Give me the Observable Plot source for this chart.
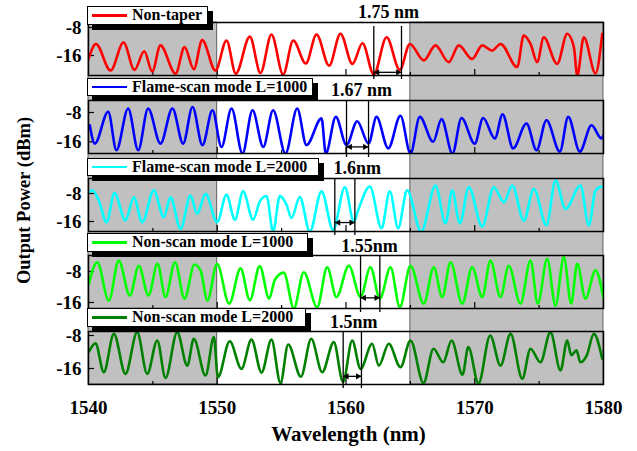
<!DOCTYPE html>
<html><head><meta charset="utf-8">
<script src="https://cdn.jsdelivr.net/npm/d3@7"></script>
<script src="https://cdn.jsdelivr.net/npm/@observablehq/plot@0.6"></script>
<style>
body{margin:0;background:#fff;}
#chart{position:relative;width:637px;height:451px;overflow:hidden;font-family:'Liberation Serif','Times New Roman',serif;font-weight:bold;background:#fff;}
#chart svg{position:absolute;left:0;}
.leg{position:absolute;left:87px;height:18.5px;background:#fff;border:1px solid #000;box-shadow:5px 5px 0 #000;box-sizing:border-box;font-size:16px;line-height:16.5px;white-space:nowrap;color:#000;}
.leg .sw{position:absolute;left:4px;top:7px;width:35px;height:2.6px;}
.leg .tx{position:absolute;left:44px;top:0;}
</style></head>
<body><div id="chart"></div>
<script>
// ---------- data ----------
const xTicks = [1540, 1550, 1560, 1570, 1580];
const majorTicks = [1550, 1560, 1570];
const minorTicks = [1545, 1555, 1565, 1575];
const yTicks = [-8, -16];
const shaded = [[1540, 1550], [1565, 1580]];

const seriesNames = ["Non-taper", "Flame-scan mode L=1000", "Flame-scan mode L=2000", "Non-scan mode L=1000", "Non-scan mode L=2000"];
const seriesColors = ["#ff0000", "#0000ff", "#00ffff", "#00ff00", "#008000"];

const nonTaper = [[1540.0,-17.0],[1540.58,-12.7],[1541.71,-20.3],[1542.72,-12.3],[1543.57,-20.1],[1544.33,-14.8],[1544.95,-20.6],[1545.59,-13.1],[1546.76,-21.2],[1547.46,-13.6],[1548.18,-19.9],[1548.83,-11.6],[1549.86,-20.3],
[1550.72,-11.7],[1551.44,-21.2],[1552.53,-10.6],[1553.36,-21.0],[1554.21,-10.0],[1555.12,-21.4],[1555.9,-11.7],[1556.88,-18.3],[1557.71,-10.0],[1558.69,-18.9],[1559.57,-9.8],[1560.5,-18.4],[1561.28,-12.5],[1562.16,-21.4],[1563.15,-10.8],[1564.18,-20.1],[1564.96,-12.7],
[1566.04,-17.4],[1566.95,-13.1],[1567.98,-17.9],[1568.76,-13.1],[1569.8,-17.0],[1570.58,-13.1],[1571.35,-14.6],[1572.0,-12.7],[1573.3,-19.3],[1573.8,-10.3],[1574.33,-12.7],[1574.85,-17.9],[1575.36,-10.8],[1576.4,-18.4],[1577.18,-9.8],[1577.7,-13.6],[1577.96,-21.7],[1578.47,-10.8],[1579.38,-21.1],[1579.9,-9.8]];

const flameL1000 = [[1540.1,-11.5],[1540.49,-16.5],[1541.53,-7.8],[1542.17,-18.3],[1543.08,-6.9],[1543.86,-18.3],[1544.63,-6.9],[1545.59,-16.5],[1546.52,-6.9],[1547.35,-16.5],[1548.08,-6.5],[1548.85,-16.9],[1549.63,-7.4],
[1550.33,-17.4],[1551.11,-6.9],[1551.96,-19.2],[1552.74,-7.4],[1553.57,-17.4],[1554.34,-7.4],[1555.3,-19.2],[1556.21,-6.9],[1556.93,-16.9],[1558.1,-9.6],[1558.43,-19.2],[1559.21,-9.2],[1560.04,-16.9],[1560.87,-10.4],[1561.75,-16.5],[1562.37,-9.2],[1563.28,-17.8],[1564.23,-8.9],[1565.01,-19.2],
[1565.73,-9.2],[1566.77,-16.0],[1567.42,-9.8],[1568.27,-19.2],[1568.97,-9.5],[1570.0,-16.5],[1570.65,-9.5],[1571.56,-15.1],[1572.16,-8.5],[1572.98,-17.8],[1574.02,-11.0],[1574.8,-18.3],[1575.57,-10.1],[1576.61,-18.7],[1577.26,-9.2],[1578.16,-18.7],[1579.07,-11.5],[1579.84,-15.1],[1580.0,-14.2]];

const flameL2000 = [[1540.02,-7.6],[1540.3,-7.1],[1540.8,-10.0],[1541.4,-16.2],[1542.02,-7.9],[1542.87,-15.7],[1543.52,-9.1],[1544.17,-16.2],[1545.07,-7.1],[1545.85,-14.8],[1546.37,-9.1],[1547.15,-18.1],[1547.92,-8.6],[1548.44,-13.8],[1549.09,-8.1],[1549.99,-16.2],
[1550.72,-8.4],[1551.37,-15.5],[1552.01,-7.4],[1552.79,-15.5],[1553.3,-10.3],[1553.83,-8.7],[1554.34,-18.9],[1554.86,-8.7],[1555.38,-11.2],[1555.77,-15.0],[1556.41,-9.0],[1557.19,-18.9],[1558.1,-7.4],[1559.0,-18.4],[1559.91,-6.2],[1560.61,-16.0],[1560.95,-12.7],[1561.85,-6.0],[1562.76,-17.9],[1563.4,-7.4],[1564.05,-17.9],[1564.75,-7.1],
[1565.84,-18.9],[1566.95,-5.7],[1567.73,-16.5],[1568.25,-7.1],[1568.84,-16.5],[1569.54,-6.2],[1570.58,-17.4],[1571.48,-6.2],[1572.26,-10.5],[1572.91,-5.7],[1573.81,-15.7],[1574.59,-6.7],[1575.57,-17.1],[1576.27,-4.3],[1577.05,-12.4],[1578.21,-5.7],[1578.86,-17.1],[1579.38,-7.1],[1579.84,-6.0]];

const nonScanL1000 = [[1540.02,-11.2],[1540.68,-5.6],[1541.58,-15.5],[1542.35,-5.2],[1543.21,-14.2],[1543.91,-6.5],[1544.66,-14.2],[1545.36,-6.0],[1545.98,-14.6],[1546.72,-5.6],[1547.46,-15.0],[1548.23,-6.2],[1548.7,-7.7],[1549.24,-15.5],[1549.98,-6.0],
[1550.93,-16.3],[1551.81,-7.2],[1552.53,-15.4],[1553.3,-6.6],[1554.03,-15.0],[1554.47,-10.2],[1555.17,-8.3],[1555.95,-17.5],[1556.72,-8.2],[1557.76,-17.2],[1558.54,-6.9],[1559.26,-14.6],[1560.22,-6.5],[1561.13,-14.6],[1561.9,-6.9],[1562.63,-15.0],[1563.46,-6.9],[1564.18,-17.2],[1565.01,-6.5],
[1566.04,-16.3],[1566.82,-6.9],[1567.47,-14.6],[1568.12,-5.6],[1569.03,-16.3],[1569.8,-6.9],[1570.58,-14.6],[1571.22,-5.2],[1572.0,-14.6],[1572.64,-6.5],[1573.55,-16.3],[1574.33,-5.2],[1574.9,-16.3],[1575.63,-4.7],[1576.27,-16.8],[1576.92,-4.3],[1577.49,-16.3],[1577.96,-6.0],[1578.6,-15.0],[1579.38,-7.7],[1580.0,-15.0]];

const nonScanL2000 = [[1540.02,-12.0],[1540.54,-9.9],[1541.19,-16.9],[1541.97,-7.6],[1542.87,-17.3],[1543.78,-7.2],[1544.56,-17.3],[1545.34,-9.2],[1545.98,-18.3],[1546.89,-7.2],[1547.67,-15.3],[1548.18,-8.8],[1549.09,-17.7],[1549.74,-8.4],[1550.05,-18.1],
[1550.97,-9.4],[1551.88,-16.1],[1552.66,-9.0],[1553.44,-17.0],[1554.21,-9.0],[1554.91,-19.5],[1555.51,-10.2],[1556.5,-18.0],[1557.3,-8.8],[1558.15,-16.9],[1559.05,-9.6],[1559.77,-19.3],[1560.48,-9.2],[1561.13,-16.1],[1562.03,-10.0],[1562.55,-15.3],[1563.32,-10.0],[1564.23,-15.7],[1565.01,-9.2],
[1566.02,-19.5],[1566.8,-11.2],[1567.55,-14.5],[1568.2,-9.2],[1569.05,-17.5],[1569.5,-10.8],[1570.29,-19.6],[1571.2,-8.0],[1572.0,-15.3],[1572.78,-7.6],[1573.69,-18.5],[1574.33,-11.2],[1575.1,-14.5],[1575.88,-7.2],[1576.66,-16.5],[1577.18,-9.2],[1577.5,-12.8],[1577.9,-11.6],[1578.2,-14.5],[1578.7,-12.8],[1579.25,-7.6],[1579.9,-13.6]];

const seriesData = [nonTaper, flameL1000, flameL2000, nonScanL1000, nonScanL2000];

const spacingLabels = ["1.75 nm", "1.67 nm", "1.6nm", "1.55nm", "1.5nm"];
const spacingMarks = [[1562.16, 1564.31], [1560.04, 1561.75], [1559.13, 1560.69], [1561.13, 1562.63], [1559.78, 1561.2]];
const arrowLevel = [-20.8, -17.4, -16.3, -14.8, -17.9];
const labelX = [1563.3, 1561.2, 1560.87, 1561.83, 1560.6];

// ---------- layout ----------
const W = 637, ML = 88, MR = 34;
const panelTop = [22, 100, 178, 255, 331];
const panelH = 53;
const yDomains = [[-21.71, -6.57], [-19.2, -4.72], [-18.86, -3.71], [-17.55, -3.87], [-19.88, -7.03]];
const labelDy = [-10, -10, -10, -9, -9.5];
const legTop = [6, 77.5, 157.5, 233.3, 308.3];
const legWidth = [120.5, 225.5, 232, 220.5, 219];
const MT = 22, MB = 8;
const font = {fontFamily: "'Liberation Serif','Times New Roman',serif", fontWeight: "bold", fontSize: "19px", background: "transparent", overflow: "visible"};

const chart = document.getElementById("chart");

// background: shaded bands, x axis, titles
const bg = Plot.plot({
  width: W, height: 451, marginTop: panelTop[0], marginBottom: 451 - (panelTop[4] + panelH),
  marginLeft: ML, marginRight: MR,
  style: font,
  x: {domain: [1540, 1580]},
  marks: [
    Plot.rect(shaded, {x1: d => d[0], x2: d => d[1], fill: "#c0c0c0", stroke: "#444", strokeWidth: 0.8}),
    Plot.axisX(xTicks, {tickSize: 0, tickPadding: 16, tickFormat: d => String(d), label: null}),
    Plot.text(["Wavelength (nm)"], {frameAnchor: "bottom", dy: 56, dx: 2.5, fontSize: 21}),
    Plot.text(["Output Power (dBm)"], {frameAnchor: "left", textAnchor: "middle", rotate: -90, dx: -64.5, dy: -3, fontSize: 18.5})
  ]
});
bg.style.top = "0px";
chart.appendChild(bg);

seriesData.forEach((data, i) => {
  const lvl = arrowLevel[i];
  const p = Plot.plot({
    width: W, height: panelH + MT + MB, marginTop: MT, marginBottom: MB,
    marginLeft: ML, marginRight: MR,
    style: font,
    x: {domain: [1540, 1580], axis: null},
    y: {domain: yDomains[i]},
    marks: [
      Plot.ruleX(majorTicks, {stroke: "black", strokeWidth: 1.2, insetTop: panelH - 6}),
      Plot.ruleX(minorTicks, {stroke: "black", strokeWidth: 1.2, insetTop: panelH - 3}),
      Plot.ruleY(yTicks, {stroke: "black", strokeWidth: 1.2, insetRight: W - ML - MR - 6}),
      Plot.line(data, {x: d => d[0], y: d => d[1], stroke: seriesColors[i], strokeWidth: 2.6, curve: "monotone-x", clip: true}),
      Plot.ruleX(spacingMarks[i], {stroke: "black", strokeWidth: 1.3, insetBottom: -4, insetTop: i === 0 ? 4 : 0}),
      Plot.link([spacingMarks[i]], {x1: d => d[0], x2: d => d[1], y1: lvl, y2: lvl, stroke: "black", strokeWidth: 1.3}),
      Plot.dot([spacingMarks[i][0]], {x: d => d, y: lvl, symbol: "triangle", r: 2.3, rotate: -90, fill: "black", stroke: null, dx: 3.6}),
      Plot.dot([spacingMarks[i][1]], {x: d => d, y: lvl, symbol: "triangle", r: 2.3, rotate: 90, fill: "black", stroke: null, dx: -3.6}),
      Plot.text([spacingLabels[i]], {x: labelX[i], frameAnchor: "top", lineAnchor: "middle", dy: labelDy[i], fontSize: 18}),
      Plot.axisY(yTicks, {tickSize: 0, tickPadding: 7, tickFormat: d => String(d), label: null}),
      Plot.frame({stroke: "black", strokeWidth: 1.5})
    ]
  });
  p.style.top = (panelTop[i] - MT) + "px";
  chart.appendChild(p);
});

// legends
seriesNames.forEach((name, i) => {
  const d = document.createElement("div");
  d.className = "leg";
  d.style.top = legTop[i] + "px";
  d.style.width = legWidth[i] + "px";
  const sw = document.createElement("div");
  sw.className = "sw";
  sw.style.background = seriesColors[i];
  const tx = document.createElement("div");
  tx.className = "tx";
  tx.textContent = name;
  d.appendChild(sw); d.appendChild(tx);
  chart.appendChild(d);
});
</script>
</body></html>
